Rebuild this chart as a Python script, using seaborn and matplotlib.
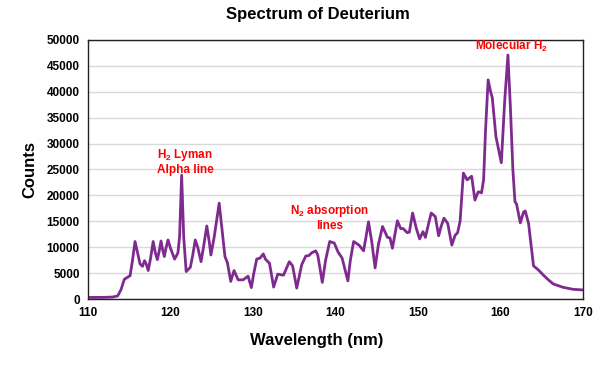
import numpy as np
import pandas as pd
import matplotlib
matplotlib.use("Agg")
import matplotlib.pyplot as plt
import seaborn as sns

wavelength = [110.0, 111.0, 112.0, 113.0, 113.6, 114.0, 114.4, 114.8, 115.1, 115.4,
              115.7, 116.0, 116.3, 116.6, 116.85, 117.05, 117.3, 117.6, 117.9, 118.15,
              118.4, 118.6, 118.85, 119.05, 119.25, 119.45, 119.7, 120.0, 120.5, 120.9,
              121.1, 121.35, 121.6, 121.9, 122.4, 122.7, 123.0, 123.3, 123.7, 124.0,
              124.4, 124.7, 124.9, 125.3, 125.9, 126.2, 126.6, 126.9, 127.3, 127.7,
              128.2, 128.8, 129.4, 129.8, 130.1, 130.45, 130.85, 131.25, 131.5, 132.0,
              132.5, 133.0, 133.7, 134.4, 134.8, 135.3, 135.9, 136.4, 136.8, 137.1,
              137.6, 137.85, 138.4, 138.8, 139.3, 139.85, 140.3, 140.8, 141.5, 141.8,
              142.2, 142.85, 143.4, 143.7, 144.0, 144.4, 144.8, 145.2, 145.7, 146.3,
              146.6, 146.9, 147.2, 147.5, 147.9, 148.2, 148.7, 148.95, 149.35, 149.8,
              150.2, 150.6, 150.9, 151.2, 151.6, 152.1, 152.5, 152.8, 153.15, 153.6,
              154.1, 154.5, 154.8, 155.1, 155.5, 155.95, 156.5, 156.9, 157.3, 157.7,
              157.95, 158.2, 158.5, 158.8, 159.0, 159.45, 159.7, 160.1, 160.5, 160.9,
              161.2, 161.5, 161.75, 161.95, 162.4, 162.8, 163.0, 163.4, 164.0, 164.6,
              165.2, 165.8, 166.4, 167.6, 168.8, 170.0]
counts = [300, 300, 320, 380, 600, 1800, 3800, 4200, 4500, 7500,
          11100, 9000, 6800, 6300, 7400, 6800, 5500, 8000, 11100, 9000,
          7600, 9000, 11200, 9500, 8200, 9800, 11400, 9800, 7700, 8900,
          12000, 23900, 12000, 5300, 6100, 8500, 11400, 10000, 7200, 10000,
          14100, 11000, 8500, 12000, 18500, 14000, 8200, 7000, 3400, 5500,
          3700, 3700, 4400, 2200, 5000, 7700, 7900, 8700, 7700, 6900,
          2300, 4800, 4600, 7200, 6400, 2100, 6600, 8300, 8400, 8900,
          9300, 8500, 3200, 7500, 11100, 10800, 9100, 7900, 3500, 7500,
          11100, 10400, 9300, 12000, 14900, 11000, 6000, 10500, 14000, 11900,
          11800, 9800, 12500, 15100, 13600, 13600, 12800, 12900, 16600, 13600,
          11600, 13000, 11900, 14000, 16600, 15900, 12200, 14000, 15600, 14600,
          10400, 12300, 12800, 15000, 24300, 23000, 23700, 19100, 20700, 20500,
          23000, 33000, 42300, 40000, 38900, 31300, 29400, 26300, 38000, 47100,
          37000, 25000, 18800, 18300, 14700, 16800, 17000, 14600, 6400, 5600,
          4600, 3700, 2900, 2250, 1870, 1750]

x_ticks = [110, 120, 130, 140, 150, 160, 170]
y_ticks = [0, 5000, 10000, 15000, 20000, 25000, 30000, 35000, 40000, 45000, 50000]

df = pd.DataFrame({"Wavelength": wavelength, "Counts": counts})

sns.set_theme(style="white")
plt.rcParams["font.family"] = ["Liberation Sans", "DejaVu Sans"]
plt.rcParams["mathtext.fontset"] = "custom"
plt.rcParams["mathtext.rm"] = "Liberation Sans:bold"
plt.rcParams["mathtext.it"] = "Liberation Sans:bold"
plt.rcParams["mathtext.bf"] = "Liberation Sans:bold"
plt.rcParams["text.color"] = "black"
plt.rcParams["xtick.color"] = "black"
plt.rcParams["ytick.color"] = "black"

fig = plt.figure(figsize=(6, 3.71), dpi=100)
ax = fig.add_axes([88/600, 1-299/371, (583-88)/600, (299-40)/371])

sns.lineplot(data=df, x="Wavelength", y="Counts", color="#7F2A8F",
             linewidth=2.0, ax=ax)

ax.set_xlim(110, 170)
ax.set_ylim(0, 50000)
ax.set_xticks(x_ticks)
ax.set_yticks(y_ticks)
ax.set_xticklabels([str(v) for v in x_ticks], fontweight="bold", fontsize=8.5)
ax.set_yticklabels([str(v) for v in y_ticks], fontweight="bold", fontsize=8.5)
ax.yaxis.grid(True, color="#D9D9D9", linewidth=1)
ax.xaxis.grid(False)
ax.set_axisbelow(True)
for s in ax.spines.values():
    s.set_visible(True)
    s.set_color("#222222")
    s.set_linewidth(1.0)
ax.tick_params(axis="x", direction="inout", length=6, width=1, color="#222222", pad=3)
ax.tick_params(axis="y", direction="out", length=4, width=1, color="#222222", pad=2)
ax.set_xlabel("")
ax.set_ylabel("")

fig.text(318/600, 1-15/371, "Spectrum of Deuterium", ha="center", va="center",
         fontsize=12, fontweight="bold", color="black")
fig.text(317/600, 1-341/371, "Wavelength (nm)", ha="center", va="center",
         fontsize=12, fontweight="bold", color="black")
fig.text(30/600, 1-170/371, "Counts", ha="center", va="center", rotation=90,
         fontsize=12, fontweight="bold", color="black")

ax.text(121.75, 26550, "H$_{2}$ Lyman\nAlpha line", color="#FF0000", fontsize=8.5,
        fontweight="bold", ha="center", va="center", linespacing=1.1)
ax.text(139.3, 15800, "N$_{2}$ absorption\nlines", color="#FF0000", fontsize=8.5,
        fontweight="bold", ha="center", va="center", linespacing=1.1)
ax.text(161.3, 48700, "Molecular H$_{2}$", color="#FF0000", fontsize=8.5,
        fontweight="bold", ha="center", va="center")

fig.savefig("out.png", dpi=100)
